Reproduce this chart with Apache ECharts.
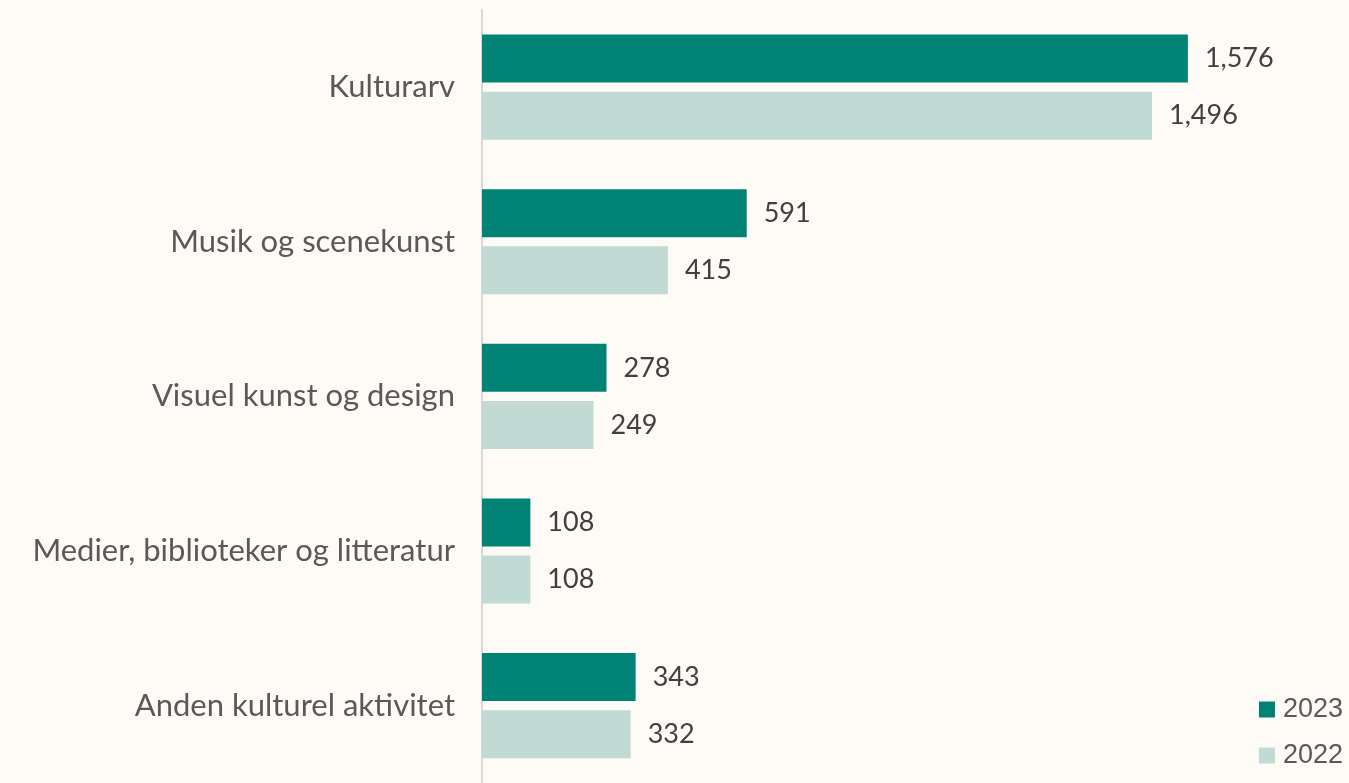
<!DOCTYPE html>
<html>
<head>
<meta charset="utf-8">
<style>
  html, body { margin: 0; padding: 0; background: #fefbf6; }
  #chart { width: 1349px; height: 783px; }
</style>
<script src="https://cdn.jsdelivr.net/npm/echarts@6/dist/echarts.min.js"></script>
</head>
<body>
<div id="chart"></div>
<script>
// --- Data ---
const categories = ['Kulturarv', 'Musik og scenekunst', 'Visuel kunst og design', 'Medier, biblioteker og litteratur', 'Anden kulturel aktivitet'];
const values2023 = [1576, 591, 278, 108, 343];
const values2022 = [1496, 415, 249, 108, 332];

const labelFont = 'Lato, "DejaVu Sans", sans-serif';

const chart = echarts.init(document.getElementById('chart'));

function barLabel() {
    return {
        show: true,
        position: 'right',
        distance: 17,
        color: '#404040',
        fontFamily: labelFont,
        fontSize: 27,
        formatter: p => p.value.toLocaleString('en-US')
    };
}

chart.setOption({
    backgroundColor: '#fefbf6',
    animation: false,
    grid: { left: 482, right: 16, top: 9.75, bottom: -4.25, containLabel: false },
    legend: {
        orient: 'vertical',
        right: 6,
        bottom: 14,
        padding: 0,
        itemWidth: 16,
        itemHeight: 16,
        itemGap: 19,
        icon: 'rect',
        textStyle: { fontFamily: '"Liberation Sans", Arial, sans-serif', fontSize: 27, color: '#595959', padding: [0, 0, 0, 3] },
        data: ['2023', '2022']
    },
    xAxis: {
        type: 'value',
        min: 0,
        max: 1900,
        show: false
    },
    yAxis: {
        type: 'category',
        data: categories,
        inverse: true,
        axisLine: { show: true, lineStyle: { color: '#d9d9d9', width: 2 } },
        axisTick: { show: false },
        axisLabel: {
            margin: 27,
            color: '#595959',
            fontFamily: labelFont,
            fontSize: 31
        }
    },
    series: [
        {
            name: '2023',
            type: 'bar',
            data: values2023,
            barWidth: 48,
            barGap: '19%',
            itemStyle: { color: '#008275' },
            label: barLabel()
        },
        {
            name: '2022',
            type: 'bar',
            data: values2022,
            barWidth: 48,
            itemStyle: { color: '#c2dad4' },
            label: barLabel()
        }
    ]
});
</script>
</body>
</html>
